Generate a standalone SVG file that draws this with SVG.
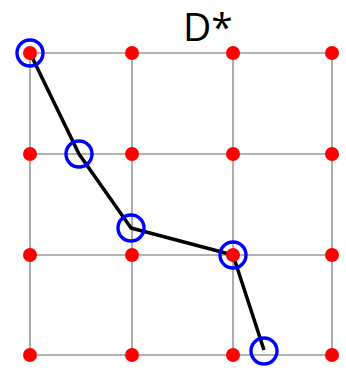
<svg xmlns="http://www.w3.org/2000/svg" width="346" height="368" viewBox="0 0 346 368">
<style>
.grid{stroke:#999;stroke-width:1.6;fill:none}
.path{stroke:#000;stroke-width:3.5;fill:none;stroke-linejoin:round}
.dot{fill:#ff0000}
.ring{fill:none;stroke:#0000ff;stroke-width:3.4}
.title{font-family:"Open Sans","Liberation Sans",sans-serif;font-size:39px;fill:#000}
</style>
<rect width="346" height="368" fill="#fff"/>
<g id="grid">
<path class="grid" d="M30,53H332M30,154H332M30,255H332M30,355H332M30,53V355M132,53V355M233,53V355M332,53V355"/>
</g>
<g id="connectors">
<polyline class="path" points="30,53 79,154 131,228 233,255 264,350"/>
</g>
<g id="nodes" class="dot">
<circle cx="30" cy="53" r="7"/><circle cx="132" cy="53" r="7"/><circle cx="233" cy="53" r="7"/><circle cx="332" cy="53" r="7"/>
<circle cx="30" cy="154" r="7"/><circle cx="132" cy="154" r="7"/><circle cx="233" cy="154" r="7"/><circle cx="332" cy="154" r="7"/>
<circle cx="30" cy="255" r="7"/><circle cx="132" cy="255" r="7"/><circle cx="233" cy="255" r="7"/><circle cx="332" cy="255" r="7"/>
<circle cx="30" cy="355" r="7"/><circle cx="132" cy="355" r="7"/><circle cx="233" cy="355" r="7"/><circle cx="332" cy="355" r="7"/>
</g>
<g id="path-nodes">
<circle class="ring" cx="30" cy="53" r="13"/>
<circle class="ring" cx="79" cy="154" r="13"/>
<circle class="ring" cx="131" cy="228" r="13"/>
<circle class="ring" cx="233" cy="255" r="13"/>
<circle class="ring" cx="264" cy="351" r="13"/>
</g>
<text class="title" x="183" y="41">D*</text>
</svg>
